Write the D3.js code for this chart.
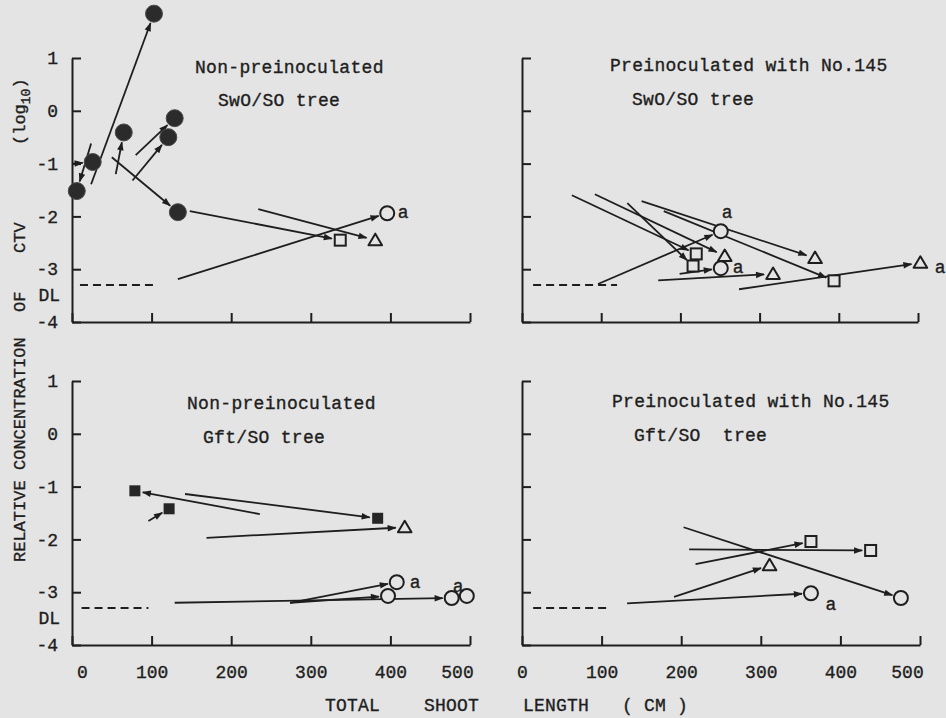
<!DOCTYPE html>
<head>
<meta charset="utf-8">
<style>
body { margin: 0; background: #e4e4e4; }
svg { display: block; background: #e4e4e4; }
.ax path, .ax line { stroke: #1e1e1e; stroke-width: 2; }
.ax text { font-family: "Liberation Mono", monospace; font-size: 18px; fill: #1e1e1e; stroke: #1e1e1e; stroke-width: 0.35px; }
.lbl { font-family: "Liberation Mono", monospace; fill: #1e1e1e; stroke: #1e1e1e; stroke-width: 0.35px; }
</style>
</head>
<body>
<script src="https://cdn.jsdelivr.net/npm/d3@7"></script>
<script>
(function() {
  "use strict";

  // ---- data (x = total shoot length cm, y = log10 rel. conc.) ----
  var xTicks = [0, 100, 200, 300, 400, 500];
  var yTicks = [1, 0, -1, -2, -3, -4];
  var detectionLimit = -3.3;

  var titles = [
    ["Non-preinoculated", "SwO/SO tree"],
    ["Preinoculated with No.145", "SwO/SO tree"],
    ["Non-preinoculated", "Gft/SO tree"],
    ["Preinoculated with No.145", "Gft/SO  tree"]
  ];

  // dashed DL segment, start/end in cm
  var dlSpan = [[10, 107], [14, 120], [12, 96], [14, 107]];

  // arrows: [x0, y0, x1, y1, marker]  (x0 null = marker only)
  var swoNon = [
    [24, -1.39, 103, 1.84, "fc"],
    [24, -0.62, 6, -1.52, "fc"],
    [0, -1.0, 26, -0.97, "fc"],
    [55, -1.2, 65, -0.41, "fc"],
    [80, -0.84, 129, -0.14, "fc"],
    [76, -1.32, 121, -0.5, "fc"],
    [50, -0.88, 133, -1.92, "fc"],
    [148, -1.9, 337, -2.45, "os"],
    [234, -1.86, 381, -2.45, "ot"],
    [133, -3.19, 396, -1.94, "oc"]
  ];
  var swoPre = [
    [151, -1.71, 370, -2.79, "ot"],
    [179, -1.9, 394, -3.22, "os"],
    [63, -1.6, 220, -2.71, "os"],
    [92, -1.58, 256, -2.75, "ot"],
    [133, -1.75, 216, -2.94, "os"],
    [96, -3.28, 251, -2.28, "oc"],
    [172, -3.21, 317, -3.09, "ot"],
    [199, -3.09, 251, -2.98, "oc"],
    [274, -3.38, 503, -2.88, "ot"]
  ];
  var gftNon = [
    [236, -1.52, 79, -1.08, "fs"],
    [96, -1.65, 122, -1.42, "fs"],
    [142, -1.14, 384, -1.6, "fs"],
    [169, -1.97, 418, -1.77, "ot"],
    [274, -3.2, 408, -2.81, "oc"],
    [274, -3.2, 397, -3.07, "oc"],
    [129, -3.2, 477, -3.11, "oc"],
    [null, null, 496, -3.07, "oc"]
  ];
  var gftPre = [
    [203, -1.77, 476, -3.11, "oc"],
    [210, -2.19, 438, -2.21, "os"],
    [218, -2.47, 363, -2.04, "os"],
    [191, -3.09, 311, -2.49, "ot"],
    [132, -3.21, 363, -3.02, "oc"]
  ];

  // "a" notes [x, y]
  var swoNonNotes = [[416, -1.92]];
  var swoPreNotes = [[259, -1.92], [273, -2.96], [528, -2.96]];
  var gftNonNotes = [[431, -2.8], [485, -2.87]];
  var gftPreNotes = [[388, -3.22]];

  var arrows = [swoNon, swoPre, gftNon, gftPre];
  var notes = [swoNonNotes, swoPreNotes, gftNonNotes, gftPreNotes];

  // ---- layout ----
  var W = 946, H = 718, bg = "#e4e4e4", ink = "#1e1e1e";
  var panels = [
    {x: [72, 470], y: [322, 58], left: true, bottom: false, t1: [195, 67], t2: [218, 100]},
    {x: [522, 918], y: [322, 58], left: false, bottom: false, t1: [610, 65], t2: [632, 99]},
    {x: [72, 470], y: [645, 381], left: true, bottom: true, t1: [187, 403], t2: [203, 437]},
    {x: [522, 920], y: [645, 381], left: false, bottom: true, t1: [612, 401], t2: [634, 435]}
  ];

  var svg = d3.select("body").append("svg")
    .attr("width", W)
    .attr("height", H);

  svg.append("defs").append("marker")
    .attr("id", "head")
    .attr("markerUnits", "userSpaceOnUse")
    .attr("viewBox", "0 -5 10 10")
    .attr("refX", 9)
    .attr("refY", 0)
    .attr("markerWidth", 11)
    .attr("markerHeight", 9)
    .attr("orient", "auto")
    .append("path")
      .attr("d", "M0,-3.6L10,0L0,3.6Z")
      .attr("fill", ink);

  var rad = {fc: 8, oc: 7, os: 6.5, ot: 7, fs: 6};

  panels.forEach(function(p, i) {
    var x = d3.scaleLinear().domain([0, 500]).range(p.x);
    var y = d3.scaleLinear().domain([-4, 1]).range(p.y);
    var g = svg.append("g");

    var xa = g.append("g")
      .attr("class", "ax")
      .attr("transform", "translate(0," + p.y[0] + ")")
      .call(d3.axisBottom(x).tickValues(xTicks).tickSizeInner(-9).tickSizeOuter(0)
        .tickPadding(20).tickFormat(p.bottom ? function(d) { return d; } : ""));

    // typed labels sit a little off the ticks at both ends
    xa.selectAll(".tick text").attr("dx", function(d) {
      if (d === 500) return -13;
      if (d === 0 && p.left) return 10;
      return 0;
    });

    g.append("g")
      .attr("class", "ax")
      .attr("transform", "translate(" + p.x[0] + ",0)")
      .call(d3.axisLeft(y).tickValues(yTicks).tickSizeInner(-9).tickSizeOuter(0)
        .tickPadding(14).tickFormat(p.left ? function(d) { return String(d); } : ""));

    g.selectAll(".ax").attr("font-family", null).attr("font-size", null);

    if (p.left) {
      g.append("text")
        .attr("class", "lbl")
        .attr("x", p.x[0] - 12)
        .attr("y", y(detectionLimit - 0.18))
        .attr("dy", "0.35em")
        .attr("text-anchor", "end")
        .style("font-size", "18px")
        .text("DL");
    }

    g.append("line")
      .attr("x1", x(dlSpan[i][0]))
      .attr("x2", x(dlSpan[i][1]))
      .attr("y1", y(detectionLimit))
      .attr("y2", y(detectionLimit))
      .attr("stroke", ink)
      .attr("stroke-width", 2)
      .attr("stroke-dasharray", "8,5");

    g.append("text").attr("class", "lbl")
      .attr("x", p.t1[0]).attr("y", p.t1[1]).attr("dy", "0.35em")
      .style("font-size", "18px").style("letter-spacing", "0.3px")
      .style("white-space", "pre")
      .text(titles[i][0]);
    g.append("text").attr("class", "lbl")
      .attr("x", p.t2[0]).attr("y", p.t2[1]).attr("dy", "0.35em")
      .style("font-size", "18px").style("letter-spacing", "0.3px")
      .style("white-space", "pre")
      .text(titles[i][1]);

    var data = arrows[i];

    // shafts
    g.selectAll("line.arr")
      .data(data.filter(function(d) { return d[0] !== null; }))
      .enter().append("line")
        .attr("class", "arr")
        .each(function(d) {
          var x0 = x(d[0]), y0 = y(d[1]), x1 = x(d[2]), y1 = y(d[3]);
          var dx = x1 - x0, dy = y1 - y0, L = Math.sqrt(dx * dx + dy * dy);
          var cut = (rad[d[4]] || 0) + 2;
          d3.select(this)
            .attr("x1", x0).attr("y1", y0)
            .attr("x2", x1 - dx / L * cut).attr("y2", y1 - dy / L * cut);
        })
        .attr("stroke", ink)
        .attr("stroke-width", 1.8)
        .attr("marker-end", "url(#head)");

    // symbols
    var sym = g.selectAll("g.sym")
      .data(data)
      .enter().append("g")
        .attr("class", "sym")
        .attr("transform", function(d) { return "translate(" + x(d[2]) + "," + y(d[3]) + ")"; });

    sym.each(function(d) {
      var s = d3.select(this);
      if (d[4] === "fc") {
        s.append("circle").attr("r", 8.5).attr("fill", "#2b2b2b").attr("stroke", "#4a4a4a").attr("stroke-width", 1);
      } else if (d[4] === "oc") {
        s.append("circle").attr("r", 7).attr("fill", bg).attr("stroke", ink).attr("stroke-width", 2);
      } else if (d[4] === "os") {
        s.append("rect").attr("x", -5.5).attr("y", -5.5).attr("width", 11).attr("height", 11)
          .attr("fill", bg).attr("stroke", ink).attr("stroke-width", 2);
      } else if (d[4] === "ot") {
        s.append("path").attr("d", "M0,-6.5L6.8,5L-6.8,5Z")
          .attr("fill", bg).attr("stroke", ink).attr("stroke-width", 2).attr("stroke-linejoin", "round");
      } else if (d[4] === "fs") {
        s.append("rect").attr("x", -5.5).attr("y", -5.5).attr("width", 11).attr("height", 11)
          .attr("fill", "#262626");
      }
    });

    g.selectAll("text.note")
      .data(notes[i])
      .enter().append("text")
        .attr("class", "lbl note")
        .attr("x", function(d) { return x(d[0]); })
        .attr("y", function(d) { return y(d[1]); })
        .attr("dy", "0.35em")
        .attr("text-anchor", "middle")
        .style("font-size", "18px")
        .text("a");
  });

  // x axis title
  svg.append("text").attr("class", "lbl")
    .attr("x", 325).attr("y", 705).attr("dy", "0.35em")
    .style("font-size", "18px").style("letter-spacing", "0.2px")
    .style("white-space", "pre")
    .text("TOTAL    SHOOT    LENGTH   ( CM )");

  // y axis title, words spread along the left margin
  var yWords = [["RELATIVE", 562], ["CONCENTRATION", 470], ["OF", 312], ["CTV", 253]];
  yWords.forEach(function(w) {
    svg.append("text").attr("class", "lbl")
      .attr("transform", "translate(19," + w[1] + ") rotate(-90)")
      .attr("dy", "0.35em")
      .style("font-size", "17px")
      .text(w[0]);
  });
  var logT = svg.append("text").attr("class", "lbl")
    .attr("transform", "translate(19,145) rotate(-90)")
    .attr("dy", "0.35em")
    .style("font-size", "17px");
  logT.append("tspan").text("(log");
  logT.append("tspan").attr("dy", 5).style("font-size", "13px").text("10");
  logT.append("tspan").attr("dy", -5).text(")");

})();
</script>
</body>
